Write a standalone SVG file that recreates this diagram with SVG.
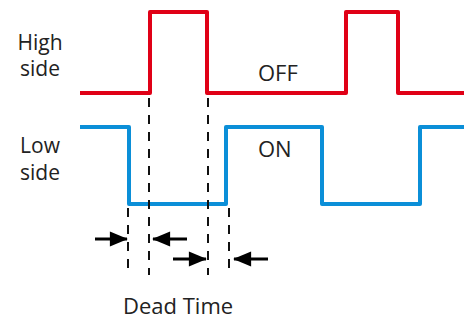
<svg xmlns="http://www.w3.org/2000/svg" width="464" height="320" viewBox="0 0 464 320">
<style>
text{font-family:"Open Sans","Liberation Sans",sans-serif;font-size:22px;fill:#222}
.side{font-size:21px}
.hi{fill:none;stroke:#E00016;stroke-width:4;stroke-linejoin:round}
.lo{fill:none;stroke:#0B8FD8;stroke-width:4;stroke-linejoin:round}
.dash{stroke:#111;stroke-width:2;stroke-dasharray:9 8}
.arr{stroke:#000;stroke-width:3;fill:none}
</style>
<defs>
<marker id="ah" markerWidth="6" markerHeight="5" refX="5.7" refY="2.5" orient="auto" markerUnits="strokeWidth" overflow="visible">
<path d="M0,0 L6,2.5 L0,5 Z" fill="#000"/>
</marker>
</defs>
<g id="labels">
<text class="side" text-anchor="middle"><tspan x="40" y="50">High</tspan><tspan x="40" y="76">side</tspan></text>
<text class="side" text-anchor="middle"><tspan x="40" y="153">Low</tspan><tspan x="40" y="180">side</tspan></text>
<text x="258" y="81">OFF</text>
<text x="258" y="157">ON</text>
<text x="123" y="314">Dead Time</text>
</g>
<g id="high-side">
<path class="hi" d="M80,93 H150 V12 H207 V93 H346 V12 H398 V93 H464"/>
</g>
<g id="low-side">
<path class="lo" d="M80,127 H129 V204 H226 V127 H322 V204 H420 V127 H464"/>
</g>
<g id="connectors">
<line class="dash" x1="149" y1="98" x2="149" y2="275"/>
<line class="dash" x1="208" y1="98" x2="208" y2="275"/>
<line class="dash" x1="128" y1="208" x2="128" y2="275"/>
<line class="dash" x1="229" y1="208" x2="229" y2="275"/>
<line class="arr" x1="95" y1="239" x2="127" y2="239" marker-end="url(#ah)"/>
<line class="arr" x1="187" y1="239" x2="153" y2="239" marker-end="url(#ah)"/>
<line class="arr" x1="173" y1="259" x2="206" y2="259" marker-end="url(#ah)"/>
<line class="arr" x1="268" y1="259" x2="234" y2="259" marker-end="url(#ah)"/>
</g>
</svg>
